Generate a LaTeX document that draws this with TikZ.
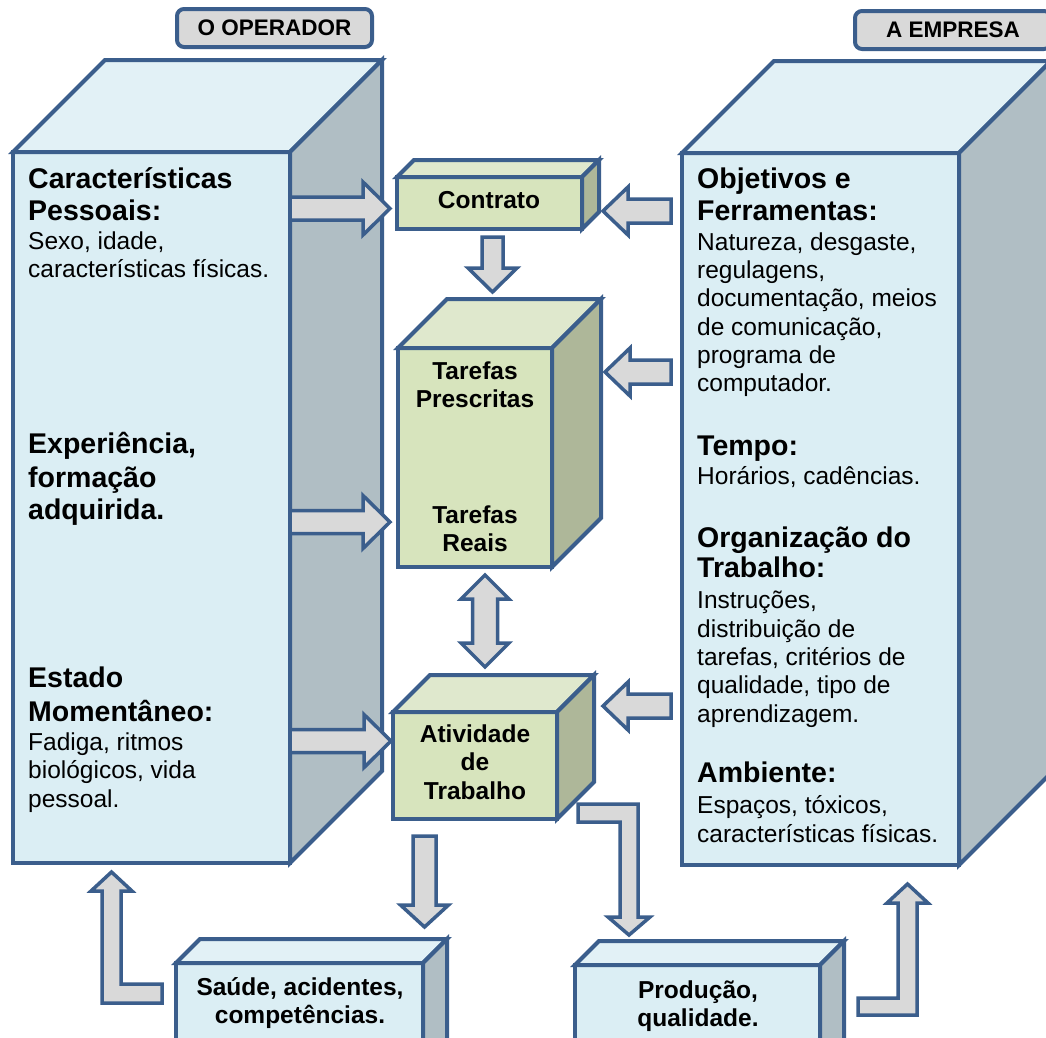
\documentclass[tikz,border=0pt]{standalone}
\usepackage{fontspec}
\setmainfont{Liberation Sans}
\usetikzlibrary{calc}

\definecolor{bord}{RGB}{59,94,140}
\definecolor{bluefront}{RGB}{219,238,244}
\definecolor{bluetop}{RGB}{226,241,246}
\definecolor{blueside}{RGB}{176,190,196}
\definecolor{greenfront}{RGB}{215,228,189}
\definecolor{greentop}{RGB}{223,232,205}
\definecolor{greenside}{RGB}{174,183,153}
\definecolor{arrfill}{RGB}{217,217,217}

% 3-D box: name, x, y (front top-left), width, height, depth, colour set
\newcommand\cuboid[7]{%
  \node[face, fill=#7front, minimum width=#4, minimum height=#5, anchor=north west] (#1) at (#2,#3) {};
  \draw[face, fill=#7top] (#1.north west) -- ++(#6,-#6) -- ($(#1.north east)+(#6,-#6)$) -- (#1.north east) -- cycle;
  \draw[face, fill=#7side] (#1.north east) -- ++(#6,-#6) -- ($(#1.south east)+(#6,-#6)$) -- (#1.south east) -- cycle;}

% block arrow: start, tip, shaft half width, head half width, head length
\newcommand\blockarrow[5]{%
  \path (#1) coordinate (ba-s) (#2) coordinate (ba-t);
  \path ($(ba-t)!#5pt!(ba-s)$) coordinate (ba-h);
  \draw[arr] ($(ba-s)!#3pt!90:(ba-t)$) -- ($(ba-h)!#3pt!90:(ba-t)$) -- ($(ba-h)!#4pt!90:(ba-t)$)
    -- (ba-t) -- ($(ba-h)!#4pt!-90:(ba-t)$) -- ($(ba-h)!#3pt!-90:(ba-t)$) -- ($(ba-s)!#3pt!-90:(ba-t)$) -- cycle;}

% two-headed block arrow: tip one, tip two, shaft half width, head half width, head length
\newcommand\dblockarrow[5]{%
  \path (#1) coordinate (da-a) (#2) coordinate (da-b);
  \path ($(da-a)!#5pt!(da-b)$) coordinate (da-ha) ($(da-b)!#5pt!(da-a)$) coordinate (da-hb);
  \draw[arr] (da-a) -- ($(da-ha)!#4pt!90:(da-b)$) -- ($(da-ha)!#3pt!90:(da-b)$) -- ($(da-hb)!#3pt!90:(da-b)$)
    -- ($(da-hb)!#4pt!90:(da-b)$) -- (da-b) -- ($(da-hb)!#4pt!-90:(da-b)$) -- ($(da-hb)!#3pt!-90:(da-b)$)
    -- ($(da-ha)!#3pt!-90:(da-b)$) -- ($(da-ha)!#4pt!-90:(da-b)$) -- cycle;}

% lines of text: style, x, name prefix, list of baseline/text
\newcommand\textlines[4]{%
  \foreach \yy/\tx in {#4} {\node[#1] (#3-\yy) at (#2,\yy) {\tx};}}

\begin{document}
\begin{tikzpicture}[x=1pt, y=-1pt,
  face/.style={draw=bord, line width=4pt, inner sep=0pt, outer sep=0pt, line join=miter},
  arr/.style={draw=bord, fill=arrfill, line width=3.5pt, line join=miter},
  tag/.style={draw=bord, fill=arrfill, line width=4pt, rounded corners=7pt, inner sep=0pt,
              font=\fontsize{22.5}{26}\selectfont\bfseries},
  head/.style={anchor=base west, inner sep=0pt, font=\fontsize{28.5}{32}\selectfont\bfseries},
  body/.style={anchor=base west, inner sep=0pt, font=\fontsize{24.5}{28}\selectfont},
  ctr/.style={anchor=base, inner sep=0pt, font=\fontsize{24.5}{28}\selectfont\bfseries}]

\useasboundingbox (0,0) rectangle (1046,1037);
\clip (0,0) rectangle (1046,1037);
\fill[white] (0,0) rectangle (1046,1037);

% the two side columns
\cuboid{op}{13}{152}{277}{711}{92}{blue}
\cuboid{emp}{682}{153}{277}{712}{92}{blue}

% central boxes
\cuboid{ct}{397}{177}{185}{52}{17}{green}
\cuboid{ta}{398}{348}{154}{219}{49}{green}
\cuboid{at}{393}{712}{164}{107}{37}{green}

% result boxes
\cuboid{sa}{176}{963}{247}{120}{24}{blue}
\cuboid{pr}{575}{965}{245}{120}{24}{blue}

% headers
\node[tag, minimum width=195, minimum height=38] (optag) at (274.5,28) {O OPERADOR};
\node[tag, minimum width=196, minimum height=38] (emptag) at (953,30) {A EMPRESA};

% operator column text
\textlines{head}{28}{opa}{188/Características, 220/Pessoais:}
\textlines{body}{28}{opb}{249/{Sexo, idade,}, 277/{características físicas.}}
\textlines{head}{28}{opc}{453/{Experiência,}, 487/formação, 519/adquirida.}
\textlines{head}{28}{opd}{687/Estado, 721/Momentâneo:}
\textlines{body}{28}{ope}{750/{Fadiga, ritmos}, 778/{biológicos, vida}, 807/pessoal.}

% company column text
\textlines{head}{697}{ema}{188/{Objetivos e}, 220/Ferramentas:}
\textlines{body}{697}{emb}{250/{Natureza, desgaste,}, 278/{regulagens,}, 306/{documentação, meios},
  335/{de comunicação,}, 363/{programa de}, 391/computador.}
\textlines{head}{697}{emc}{455/Tempo:}
\textlines{body}{697}{emd}{484/{Horários, cadências.}}
\textlines{head}{697}{eme}{547/{Organização do}, 577/Trabalho:}
\textlines{body}{697}{emf}{608/{Instruções,}, 637/{distribuição de}, 665/{tarefas, critérios de},
  693/{qualidade, tipo de}, 722/aprendizagem.}
\textlines{head}{697}{emg}{782/Ambiente:}
\textlines{body}{697}{emh}{813/{Espaços, tóxicos,}, 842/{características físicas.}}

% box labels
\textlines{ctr}{489}{ctl}{208/Contrato}
\textlines{ctr}{475}{tal}{379/Tarefas, 407/Prescritas, 523/Tarefas, 551/Reais}
\textlines{ctr}{475}{atl}{742/Atividade, 770/de, 799/Trabalho}
\textlines{ctr}{300}{sal}{995/{Saúde, acidentes,}, 1023/competências.}
\textlines{ctr}{698}{prl}{998/{Produção,}, 1026/qualidade.}

% operator -> centre
\blockarrow{op.east |- 0,208.5}{390,208.5}{11.5}{26.5}{27}
\blockarrow{op.east |- 0,522}{390,522}{11.5}{26.5}{27}
\blockarrow{op.east |- 0,741}{391,741}{11.5}{26.5}{27}

% company -> centre
\blockarrow{671,211}{603,211}{12}{24}{25}
\blockarrow{671,372}{605,372}{12}{24}{25}
\blockarrow{671,706}{603,706}{12}{24}{25}

% centre flow
\blockarrow{492.5,237}{492.5,292}{10.5}{24.5}{24}
\dblockarrow{485,575}{485,667}{12.5}{24}{24}
\blockarrow{424.5,836}{424.5,927}{11.5}{24}{22}

% feedback loops
\draw[arr] (162,1003) -- (102,1003) -- (102,891) -- (91,891) -- (111.5,872) -- (132,891)
  -- (121,891) -- (121,984) -- (162,984) -- cycle;
\draw[arr] (578,804) -- (638,804) -- (638,917) -- (650,917) -- (629,935) -- (608,917)
  -- (620,917) -- (620,822) -- (578,822) -- cycle;
\draw[arr] (858,998) -- (898,998) -- (898,903) -- (887,903) -- (907.5,884) -- (928,903)
  -- (917,903) -- (917,1015) -- (858,1015) -- cycle;

\end{tikzpicture}
\end{document}
